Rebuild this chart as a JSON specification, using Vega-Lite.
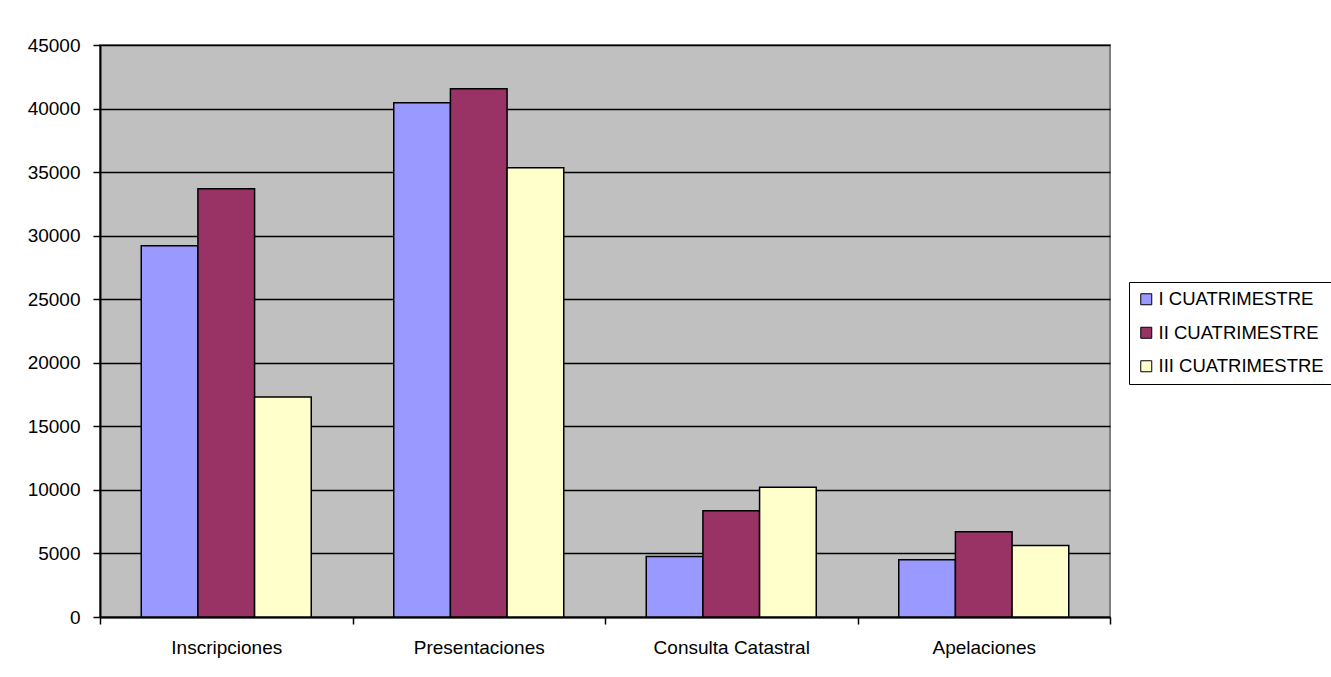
{
  "$schema": "https://vega.github.io/schema/vega-lite/v6.json",
  "autosize": {"type": "none"},
  "width": 1010,
  "height": 572,
  "padding": {"left": 100, "top": 45, "right": 221, "bottom": 60},
  "background": "white",
  "data": {
    "values": [
      {"categoria": "Inscripciones", "cuatrimestre": "I CUATRIMESTRE", "valor": 29200},
      {"categoria": "Inscripciones", "cuatrimestre": "II CUATRIMESTRE", "valor": 33700},
      {"categoria": "Inscripciones", "cuatrimestre": "III CUATRIMESTRE", "valor": 17300},
      {"categoria": "Presentaciones", "cuatrimestre": "I CUATRIMESTRE", "valor": 40450},
      {"categoria": "Presentaciones", "cuatrimestre": "II CUATRIMESTRE", "valor": 41550},
      {"categoria": "Presentaciones", "cuatrimestre": "III CUATRIMESTRE", "valor": 35350},
      {"categoria": "Consulta Catastral", "cuatrimestre": "I CUATRIMESTRE", "valor": 4750},
      {"categoria": "Consulta Catastral", "cuatrimestre": "II CUATRIMESTRE", "valor": 8350},
      {"categoria": "Consulta Catastral", "cuatrimestre": "III CUATRIMESTRE", "valor": 10200},
      {"categoria": "Apelaciones", "cuatrimestre": "I CUATRIMESTRE", "valor": 4500},
      {"categoria": "Apelaciones", "cuatrimestre": "II CUATRIMESTRE", "valor": 6700},
      {"categoria": "Apelaciones", "cuatrimestre": "III CUATRIMESTRE", "valor": 5620}
    ]
  },
  "mark": {"type": "bar", "stroke": "black", "strokeWidth": 1.5, "opacity": 1},
  "encoding": {
    "x": {
      "field": "categoria",
      "type": "nominal",
      "sort": ["Inscripciones", "Presentaciones", "Consulta Catastral", "Apelaciones"],
      "scale": {"paddingInner": 0, "paddingOuter": 0},
      "axis": {
        "title": null,
        "labelAngle": 0,
        "tickBand": "extent",
        "tickSize": 7,
        "tickColor": "black",
        "tickWidth": 1.5,
        "domainColor": "black",
        "domainWidth": 2,
        "labelPadding": 14,
        "labelFont": "Liberation Sans",
        "labelFontSize": 19,
        "labelColor": "black"
      }
    },
    "xOffset": {
      "field": "cuatrimestre",
      "type": "nominal",
      "scale": {"paddingInner": 0, "paddingOuter": 0.728}
    },
    "y": {
      "field": "valor",
      "type": "quantitative",
      "scale": {"domain": [0, 45000], "nice": false},
      "axis": {
        "title": null,
        "values": [0, 5000, 10000, 15000, 20000, 25000, 30000, 35000, 40000, 45000],
        "format": "d",
        "grid": true,
        "gridColor": "black",
        "gridWidth": 1.5,
        "gridOpacity": 1,
        "tickSize": 7,
        "tickColor": "black",
        "tickWidth": 1.5,
        "domainColor": "black",
        "domainWidth": 2,
        "labelPadding": 13,
        "labelFont": "Liberation Sans",
        "labelFontSize": 19,
        "labelColor": "black"
      }
    },
    "color": {
      "field": "cuatrimestre",
      "type": "nominal",
      "scale": {
        "domain": ["I CUATRIMESTRE", "II CUATRIMESTRE", "III CUATRIMESTRE"],
        "range": ["#9999FF", "#993366", "#FFFFCC"]
      },
      "legend": {
        "title": null,
        "orient": "none",
        "legendX": 1029,
        "legendY": 237,
        "strokeColor": "black",
        "fillColor": "white",
        "padding": 8,
        "symbolType": "square",
        "symbolSize": 121,
        "symbolStrokeColor": "black",
        "symbolStrokeWidth": 1,
        "labelFont": "Liberation Sans",
        "labelFontSize": 18.5,
        "labelColor": "black",
        "labelLimit": 300,
        "rowPadding": 14.5,
        "labelOffset": 3
      }
    }
  },
  "config": {
    "view": {"fill": "#C0C0C0", "stroke": "#808080", "strokeWidth": 2}
  }
}
